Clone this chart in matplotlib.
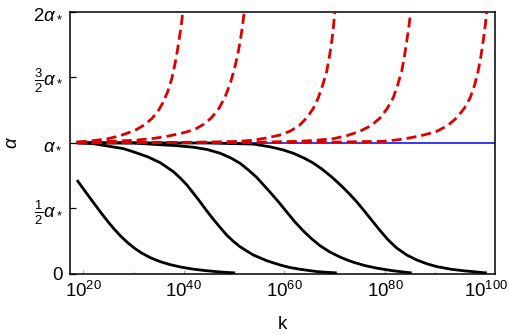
import numpy as np
import matplotlib
matplotlib.use('Agg')
import matplotlib.pyplot as plt
from matplotlib.ticker import FixedLocator, FixedFormatter, NullFormatter

plt.rcParams['font.family'] = ['Liberation Sans', 'DejaVu Sans']
plt.rcParams['mathtext.fontset'] = 'custom'
plt.rcParams['mathtext.rm'] = 'Liberation Sans'
plt.rcParams['mathtext.it'] = 'Liberation Sans:italic'
plt.rcParams['mathtext.bf'] = 'Liberation Sans:bold'

# ---- data: x values are log10(k), y values in units of alpha_* ----
black1_logk = [18.75, 19.8, 20.9, 22.2, 23.6, 24.9, 26.2, 27.5, 28.9, 30.2, 31.5, 33.3, 35.3,
               37.3, 39.5, 41.7, 44.0, 47.0, 50.2]
black1_alpha = [0.716, 0.66, 0.602, 0.535, 0.463, 0.399, 0.34, 0.286, 0.236, 0.196, 0.162, 0.125,
                0.094, 0.071, 0.052, 0.038, 0.027, 0.016, 0.008]

black2_logk = [18.7, 22.0, 25.6, 28.0, 30.2, 32.8, 35.3, 37.9, 39.3, 40.6, 41.9, 43.2, 44.5, 45.85,
               47.2, 48.5, 49.8, 51.15, 52.5, 53.8, 56.5, 59.1, 61.0, 63.1, 66.5, 70.4]
black2_alpha = [1.0, 0.993, 0.97, 0.955, 0.928, 0.893, 0.848, 0.78, 0.73, 0.678, 0.615, 0.551, 0.483,
                0.417, 0.355, 0.297, 0.25, 0.208, 0.175, 0.145, 0.101, 0.069, 0.05, 0.036, 0.018, 0.008]

black3_logk = [18.7, 30.0, 35.25, 38.5, 41.9, 44.7, 47.2, 49.3, 51.15, 52.9, 54.5, 55.8, 57.1, 58.8,
               60.4, 62.0, 63.7, 65.4, 67.1, 69.0, 71.0, 72.5, 74.0, 76.0, 78.3, 81.5, 85.3]
black3_alpha = [1.0, 0.998, 0.985, 0.978, 0.966, 0.948, 0.92, 0.885, 0.844, 0.79, 0.735, 0.68, 0.625,
                0.55, 0.475, 0.40, 0.33, 0.268, 0.215, 0.168, 0.13, 0.106, 0.086, 0.064, 0.045, 0.025, 0.008]

black4_logk = [18.7, 45.0, 53.8, 57.0, 59.5, 61.75, 63.8, 65.7, 67.5, 69.3, 71.2, 73.0, 74.4, 75.7,
               77.4, 79.0, 80.6, 82.3, 84.3, 86.3, 88.3, 90.3, 93.0, 95.5, 100.2]
black4_alpha = [1.0, 0.998, 0.99, 0.97, 0.948, 0.92, 0.885, 0.846, 0.798, 0.742, 0.676, 0.607, 0.548,
                0.488, 0.407, 0.331, 0.26, 0.198, 0.145, 0.107, 0.078, 0.056, 0.037, 0.025, 0.008]

red1_logk = [18.7, 21.8, 24.9, 27.0, 28.9, 30.7, 32.2, 33.6, 34.85, 35.9, 36.8, 37.6, 38.2, 38.75,
             39.2, 39.55, 39.8, 39.95]
red1_alpha = [1.005, 1.015, 1.031, 1.05, 1.075, 1.103, 1.138, 1.183, 1.24, 1.31, 1.392, 1.49, 1.595,
              1.71, 1.824, 1.92, 2.0, 2.1]

red2_logk = [18.7, 25.0, 30.2, 33.8, 36.8, 39.6, 42.1, 43.9, 45.45, 46.9, 48.1, 49.2, 50.1, 50.8,
             51.4, 51.75, 52.0, 52.15]
red2_alpha = [1.004, 1.01, 1.019, 1.032, 1.05, 1.073, 1.10, 1.14, 1.189, 1.258, 1.341, 1.45, 1.57,
              1.69, 1.824, 1.92, 2.0, 2.1]

red3_logk = [18.7, 40.0, 46.0, 51.2, 54.0, 56.5, 59.0, 61.1, 62.9, 64.4, 65.7, 66.7, 67.6, 68.4,
             68.95, 69.4, 69.75, 70.0, 70.15]
red3_alpha = [1.0, 1.003, 1.006, 1.011, 1.021, 1.037, 1.058, 1.088, 1.13, 1.189, 1.26, 1.341, 1.44,
              1.545, 1.66, 1.774, 1.89, 2.0, 2.1]

red4_logk = [18.7, 50.0, 57.0, 63.1, 66.6, 69.7, 72.5, 75.0, 77.2, 79.0, 80.4, 81.6, 82.5, 83.3,
             83.85, 84.3, 84.75, 85.1, 85.25]
red4_alpha = [1.0, 1.002, 1.006, 1.011, 1.02, 1.031, 1.055, 1.088, 1.13, 1.189, 1.26, 1.341, 1.44,
              1.545, 1.66, 1.774, 1.89, 2.0, 2.1]

red5_logk = [18.7, 60.0, 70.0, 79.6, 83.0, 85.6, 88.0, 90.3, 92.4, 94.2, 95.7, 96.9, 97.8, 98.5,
             99.05, 99.5, 99.9, 100.2, 100.35]
red5_alpha = [1.0, 1.002, 1.005, 1.011, 1.025, 1.042, 1.062, 1.088, 1.13, 1.189, 1.26, 1.341, 1.44,
              1.545, 1.66, 1.774, 1.89, 2.0, 2.1]

fixed_logk = [18.7, 103.0]
fixed_alpha = [1.0, 1.0]

xtick_exp = [20, 40, 60, 80, 100]
xtick_labels = [r'$10^{20}$', r'$10^{40}$', r'$10^{60}$', r'$10^{80}$', r'$10^{100}$']
xminor_exp = [30, 50, 70, 90]
ytick_vals = [0, 0.5, 1.0, 1.5, 2.0]
ytick_labels = ['0', r'$\frac{1}{2}\alpha_*$', r'$\alpha_*$', r'$\frac{3}{2}\alpha_*$', r'$2\alpha_*$']

fig = plt.figure(figsize=(5.1, 3.34), dpi=100)
ax = fig.add_axes([70/510, 1-274/334, 425/510, 262.5/334])

def X(v):
    return 10.0 ** np.asarray(v, dtype=float)

ax.plot(X(fixed_logk), fixed_alpha, color='#0000ff', lw=1.1, zorder=1.5)

for lk, a in [(black1_logk, black1_alpha), (black2_logk, black2_alpha),
              (black3_logk, black3_alpha), (black4_logk, black4_alpha)]:
    ax.plot(X(lk), a, color='black', lw=2.0, zorder=2, solid_capstyle='butt',
            solid_joinstyle='round')

for lk, a in [(red1_logk, red1_alpha), (red2_logk, red2_alpha), (red3_logk, red3_alpha),
              (red4_logk, red4_alpha), (red5_logk, red5_alpha)]:
    ax.plot(X(lk), a, color='#dc0000', lw=2.0, ls=(0, (3.6, 1.8)), zorder=3,
            dash_capstyle='butt', dash_joinstyle='round')

ax.set_xscale('log')
ax.set_xlim(10**17.36, 10**101.85)
ax.set_ylim(0, 2.0)

ax.xaxis.set_major_locator(FixedLocator(X(xtick_exp)))
ax.xaxis.set_major_formatter(FixedFormatter(xtick_labels))
ax.xaxis.set_minor_locator(FixedLocator(X(xminor_exp)))
ax.xaxis.set_minor_formatter(NullFormatter())
ax.set_yticks(ytick_vals)
ax.set_yticklabels(ytick_labels)

ax.tick_params(axis='x', which='major', direction='in', length=3, width=0.8, color='#aaaaaa',
               labelsize=13.4, pad=5, top=False)
ax.tick_params(axis='x', which='minor', direction='in', length=2, width=0.8, color='#bbbbbb', top=False)
ax.tick_params(axis='y', which='major', direction='in', length=4, width=0.9, color='black',
               labelsize=13.4, pad=5, right=False)

for s in ax.spines.values():
    s.set_linewidth(1.1)
    s.set_color('black')

ax.set_xlabel('k', fontsize=13.4, labelpad=11)
ax.set_ylabel(r'$\alpha$', fontsize=13.4, labelpad=9)

fig.savefig('out.png', dpi=100)
